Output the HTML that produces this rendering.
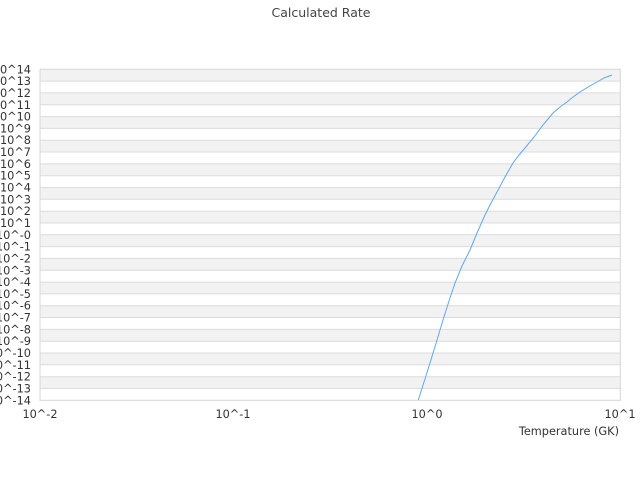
<!DOCTYPE html>
<html><head><meta charset="utf-8"><style>
html,body{margin:0;padding:0;background:#fff;}
svg{display:block;font-family:"DejaVu Sans","Liberation Sans",sans-serif;}
</style></head><body>
<svg width="640" height="480" viewBox="0 0 640 480" xmlns="http://www.w3.org/2000/svg">
<text x="321" y="17" font-size="12.5" fill="#444" text-anchor="middle">Calculated Rate</text>
<g fill="#f2f2f2">
<rect x="40" y="69.3" width="580.3" height="11.8"/>
<rect x="40" y="92.9" width="580.3" height="11.8"/>
<rect x="40" y="116.6" width="580.3" height="11.8"/>
<rect x="40" y="140.2" width="580.3" height="11.8"/>
<rect x="40" y="163.9" width="580.3" height="11.8"/>
<rect x="40" y="187.5" width="580.3" height="11.8"/>
<rect x="40" y="211.2" width="580.3" height="11.8"/>
<rect x="40" y="234.8" width="580.3" height="11.8"/>
<rect x="40" y="258.4" width="580.3" height="11.8"/>
<rect x="40" y="282.1" width="580.3" height="11.8"/>
<rect x="40" y="305.7" width="580.3" height="11.8"/>
<rect x="40" y="329.4" width="580.3" height="11.8"/>
<rect x="40" y="353.0" width="580.3" height="11.8"/>
<rect x="40" y="376.7" width="580.3" height="11.8"/>
</g>
<g stroke="#dcdcdc" stroke-width="1">
<line x1="40" x2="620.3" y1="81.1" y2="81.1"/><line x1="40" x2="620.3" y1="92.9" y2="92.9"/>
<line x1="40" x2="620.3" y1="104.8" y2="104.8"/><line x1="40" x2="620.3" y1="116.6" y2="116.6"/>
<line x1="40" x2="620.3" y1="128.4" y2="128.4"/><line x1="40" x2="620.3" y1="140.2" y2="140.2"/>
<line x1="40" x2="620.3" y1="152.0" y2="152.0"/><line x1="40" x2="620.3" y1="163.9" y2="163.9"/>
<line x1="40" x2="620.3" y1="175.7" y2="175.7"/><line x1="40" x2="620.3" y1="187.5" y2="187.5"/>
<line x1="40" x2="620.3" y1="199.3" y2="199.3"/><line x1="40" x2="620.3" y1="211.2" y2="211.2"/>
<line x1="40" x2="620.3" y1="223.0" y2="223.0"/><line x1="40" x2="620.3" y1="234.8" y2="234.8"/>
<line x1="40" x2="620.3" y1="246.6" y2="246.6"/><line x1="40" x2="620.3" y1="258.4" y2="258.4"/>
<line x1="40" x2="620.3" y1="270.3" y2="270.3"/><line x1="40" x2="620.3" y1="282.1" y2="282.1"/>
<line x1="40" x2="620.3" y1="293.9" y2="293.9"/><line x1="40" x2="620.3" y1="305.7" y2="305.7"/>
<line x1="40" x2="620.3" y1="317.5" y2="317.5"/><line x1="40" x2="620.3" y1="329.4" y2="329.4"/>
<line x1="40" x2="620.3" y1="341.2" y2="341.2"/><line x1="40" x2="620.3" y1="353.0" y2="353.0"/>
<line x1="40" x2="620.3" y1="364.8" y2="364.8"/><line x1="40" x2="620.3" y1="376.7" y2="376.7"/>
<line x1="40" x2="620.3" y1="388.5" y2="388.5"/>
</g>
<rect x="40" y="69.3" width="580.3" height="331" fill="none" stroke="#d6d6d6" stroke-width="1"/>
<g font-size="11.3" fill="#333" text-anchor="end">
<text x="31" y="73.3">10^14</text><text x="31" y="85.1">10^13</text><text x="31" y="96.9">10^12</text>
<text x="31" y="108.8">10^11</text><text x="31" y="120.6">10^10</text><text x="31" y="132.4">10^9</text>
<text x="31" y="144.2">10^8</text><text x="31" y="156.0">10^7</text><text x="31" y="167.9">10^6</text>
<text x="31" y="179.7">10^5</text><text x="31" y="191.5">10^4</text><text x="31" y="203.3">10^3</text>
<text x="31" y="215.2">10^2</text><text x="31" y="227.0">10^1</text><text x="31" y="238.8">10^-0</text>
<text x="31" y="250.6">10^-1</text><text x="31" y="262.4">10^-2</text><text x="31" y="274.3">10^-3</text>
<text x="31" y="286.1">10^-4</text><text x="31" y="297.9">10^-5</text><text x="31" y="309.7">10^-6</text>
<text x="31" y="321.5">10^-7</text><text x="31" y="333.4">10^-8</text><text x="31" y="345.2">10^-9</text>
<text x="31" y="357.0">10^-10</text><text x="31" y="368.8">10^-11</text><text x="31" y="380.7">10^-12</text>
<text x="31" y="392.5">10^-13</text><text x="31" y="404.3">10^-14</text>
</g>
<g font-size="11.3" fill="#333" text-anchor="middle">
<text x="40" y="418">10^-2</text><text x="233" y="418">10^-1</text>
<text x="427" y="418">10^0</text><text x="620" y="418">10^1</text>
</g>
<text x="619" y="435" font-size="11.3" fill="#333" text-anchor="end">Temperature (GK)</text>
<polyline fill="none" stroke="#5ea8f0" stroke-width="1" points="418.3,400 424,382 430,363 437,340 443,320 449,301 455,283 462,266 470,250 477,233 485,215 491,203 497,192 505,177 513,163 519,155 525,148 534,137 543,125 548,119 553,113 560,107 567,102 573,97 580,92 588,87 597,82 604,78 612,75"/>
</svg>
</body></html>
